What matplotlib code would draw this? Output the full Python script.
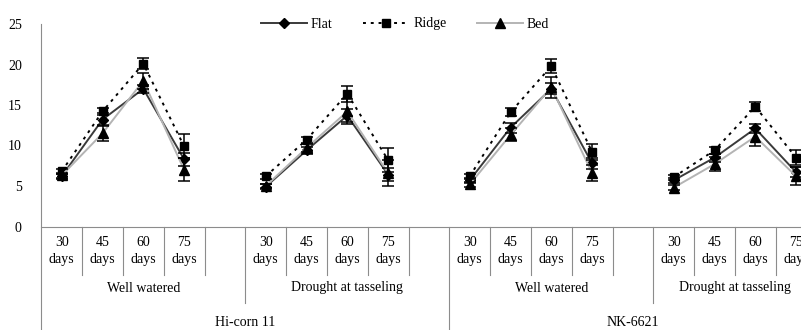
import numpy as np
import matplotlib
matplotlib.use('Agg')
import matplotlib.pyplot as plt
import matplotlib.transforms as mtransforms

plt.rcParams['font.family'] = ['Liberation Serif', 'DejaVu Serif']

# x categories (Excel style multi-level axis, one blank slot after each group)
days = ['30\ndays', '45\ndays', '60\ndays', '75\ndays']
treatments = ['Well watered', 'Drought at tasseling']
varieties = ['Hi-corn 11', 'NK-6621']

# values per group: Hi-corn WW, Hi-corn DT, NK WW, NK DT
flat = [[6.2, 13.2, 17.0, 8.3],
        [4.9, 9.4, 13.7, 6.4],
        [5.7, 12.2, 17.0, 7.8],
        [5.7, 8.5, 12.1, 6.7]]
ridge = [[6.8, 14.2, 20.1, 9.9],
         [6.2, 10.7, 16.4, 8.2],
         [6.2, 14.1, 19.8, 9.2],
         [6.1, 9.4, 14.8, 8.5]]
bed = [[6.3, 11.5, 18.0, 7.0],
       [5.0, 9.7, 14.2, 6.6],
       [5.2, 11.3, 17.2, 6.6],
       [4.8, 7.7, 11.1, 6.2]]

flat_err = [[0.3, 0.8, 0.5, 0.8],
            [0.3, 0.4, 0.8, 0.8],
            [0.3, 0.6, 0.7, 0.7],
            [0.3, 0.5, 0.6, 0.6]]
ridge_err = [[0.3, 0.4, 0.7, 1.5],
             [0.3, 0.4, 1.0, 1.5],
             [0.3, 0.5, 0.9, 1.0],
             [0.3, 0.4, 0.6, 0.9]]
bed_err = [[0.3, 1.0, 1.0, 1.4],
           [0.3, 0.5, 1.5, 1.6],
           [0.3, 0.8, 1.3, 1.0],
           [0.3, 0.9, 1.1, 1.1]]

slots_per_group = 5
n_slots = 20

fig = plt.figure(figsize=(8.01, 3.30), dpi=100)
W, H = 801.0, 330.0
ax_left, ax_top, ax_bottom = 41.3, 24.0, 226.5
slot_px = 40.8
ax = fig.add_axes([ax_left / W, (H - ax_bottom) / H,
                   n_slots * slot_px / W, (ax_bottom - ax_top) / H])

series = [
    ('Flat', flat, flat_err, dict(color='#3a3a3a', ls='-', marker='D', ms=5.5, lw=1.4)),
    ('Ridge', ridge, ridge_err, dict(color='black', ls=(0, (1.5, 2.5)), marker='s', ms=6, lw=1.4)),
    ('Bed', bed, bed_err, dict(color='#b4b4b4', ls='-', marker='^', ms=6.5, lw=1.4)),
]

for name, vals, errs, style in series:
    for g in range(4):
        x = np.arange(4) + g * slots_per_group + 0.5
        lbl = name if g == 0 else None
        ax.plot(x, vals[g], label=lbl, mfc='black', mec='black', zorder=3, **style)
        ax.errorbar(x, vals[g], yerr=errs[g], fmt='none', ecolor='black',
                    elinewidth=1.1, capsize=4, capthick=1.1, zorder=4)

ax.set_xlim(0, n_slots)
ax.set_ylim(0, 25)
ax.set_yticks([0, 5, 10, 15, 20, 25])
ax.tick_params(axis='y', length=0, labelsize=10, pad=14)
ax.set_xticks([])
for s in ['top', 'right', 'left']:
    ax.spines[s].set_visible(False)
ax.spines['bottom'].set_color('#8c8c8c')
ax.spines['bottom'].set_linewidth(0.8)

trans = mtransforms.blended_transform_factory(ax.transData, ax.transAxes)
gray = '#8c8c8c'
ax_h = ax_bottom - ax_top

def ax_y(py):
    return (ax_bottom - py) / ax_h

# separators of the category axis
for b in range(n_slots):
    if b % 10 == 0:
        y_end = ax_y(335)
        y_start = 1.0 if b == 0 else 0.0
    elif b % 5 == 0:
        y_end, y_start = ax_y(303), 0.0
    else:
        y_end, y_start = ax_y(275), 0.0
    ax.plot([b, b], [y_start, y_end], color=gray, lw=0.8, transform=trans, clip_on=False)

# category labels
for g in range(4):
    for k, d in enumerate(days):
        ax.text(g * slots_per_group + k + 0.5, ax_y(251), d, transform=trans,
                ha='center', va='center', fontsize=10, linespacing=1.5)
    end = g * slots_per_group + (5 if g < 3 else 4)
    ax.text((g * slots_per_group + end) / 2, ax_y(288), treatments[g % 2],
            transform=trans, ha='center', va='center', fontsize=10)
for v, name in enumerate(varieties):
    start = v * 10
    end = start + (10 if v == 0 else 9)
    ax.text((start + end) / 2, ax_y(323), name, transform=trans,
            ha='center', va='center', fontsize=10)

fig.legend(loc='center', bbox_to_anchor=(405 / W, 1 - 24 / H), ncol=3,
           frameon=False, fontsize=10, handlelength=3.3, columnspacing=2.2,
           handletextpad=0.3)

fig.savefig('out.png', dpi=100)
